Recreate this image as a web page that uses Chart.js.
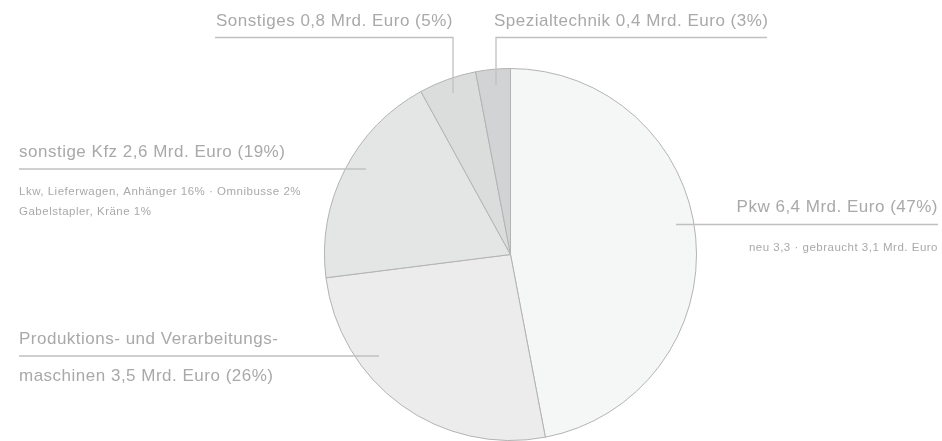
<!DOCTYPE html>
<html lang="de">
<head>
<meta charset="utf-8">
<script src="https://cdn.jsdelivr.net/npm/chart.js@4"></script>
<style>
  html, body { margin: 0; padding: 0; background: #fff; }
  #wrap { width: 942px; height: 441px; position: relative; }
</style>
</head>
<body>
<div id="wrap"><canvas id="grafico"></canvas></div>
<script>
// Daten //
var kategorien = ['Pkw', 'Produktions- und Verarbeitungsmaschinen', 'sonstige Kfz', 'Sonstiges', 'Spezialtechnik'];
var anteile = [47, 26, 19, 5, 3];
var mrdEuro = ['6,4', '3,5', '2,6', '0,8', '0,4'];
var farben = ['#f5f6f6', '#ececec', '#e4e5e5', '#dbdcdc', '#d2d3d4'];
var unterzeilen = [
    ['neu 3,3 · gebraucht 3,1 Mrd. Euro'],
    [],
    ['Lkw, Lieferwagen, Anhänger 16% · Omnibusse 2%', 'Gabelstapler, Kräne 1%'],
    [],
    []
];
// ------------------------------------------ //
// Beschriftungen mit Hinweislinien //
var textFarbe = '#a9a9a9';
var linienFarbe = '#c0c0c0';
var schrift = '"Liberation Sans", Arial, sans-serif';

function titel(i) {
    return kategorien[i] + ' ' + mrdEuro[i] + ' Mrd. Euro (' + anteile[i] + '%)';
}

var beschriftungen = {
    id: 'beschriftungen',
    afterDraw: function(chart) {
        var ctx = chart.ctx;
        ctx.save();
        ctx.strokeStyle = linienFarbe;
        ctx.lineWidth = 1.3;
        function linie(punkte) {
            ctx.beginPath();
            ctx.moveTo(punkte[0][0], punkte[0][1]);
            for (var k = 1; k < punkte.length; k++) ctx.lineTo(punkte[k][0], punkte[k][1]);
            ctx.stroke();
        }
        linie([[215, 37.5], [453, 37.5], [453, 93]]);
        linie([[767, 37.5], [496, 37.5], [496, 85]]);
        linie([[19, 169], [366, 169]]);
        linie([[938, 224.5], [676, 224.5]]);
        linie([[19, 356], [379, 356]]);

        ctx.fillStyle = textFarbe;
        ctx.textBaseline = 'alphabetic';
        ctx.font = '17px ' + schrift;
        ctx.letterSpacing = '0.5px';
        ctx.textAlign = 'left';
        ctx.fillText(titel(3), 216, 25.5);
        ctx.fillText(titel(4), 494, 25.5);
        ctx.fillText(titel(2), 19, 157);
        ctx.fillText('Produktions- und Verarbeitungs-', 19, 344);
        ctx.fillText('maschinen ' + mrdEuro[1] + ' Mrd. Euro (' + anteile[1] + '%)', 19, 381);
        ctx.textAlign = 'right';
        ctx.fillText(titel(0), 938, 212);

        ctx.font = '11.5px ' + schrift;
        ctx.fillText(unterzeilen[0][0], 938, 251);
        ctx.textAlign = 'left';
        ctx.fillText(unterzeilen[2][0], 19, 194.5);
        ctx.fillText(unterzeilen[2][1], 19, 214.5);
        ctx.restore();
    }
};
// ------------------------------------------ //
// Grafico //
var meuGrafico = new Chart(document.getElementById('grafico'), {
    type: 'pie',
    data: {
        labels: kategorien,
        datasets: [{
            data: anteile,
            backgroundColor: farben,
            borderColor: '#b3b3b3',
            borderWidth: 1,
            hoverOffset: 0
        }]
    },
    options: {
        responsive: true,
        maintainAspectRatio: false,
        animation: false,
        layout: { padding: { top: 68, bottom: 0, left: 324, right: 245 } },
        plugins: {
            legend: { display: false },
            tooltip: { enabled: false }
        }
    },
    plugins: [beschriftungen]
});
</script>
</body>
</html>
